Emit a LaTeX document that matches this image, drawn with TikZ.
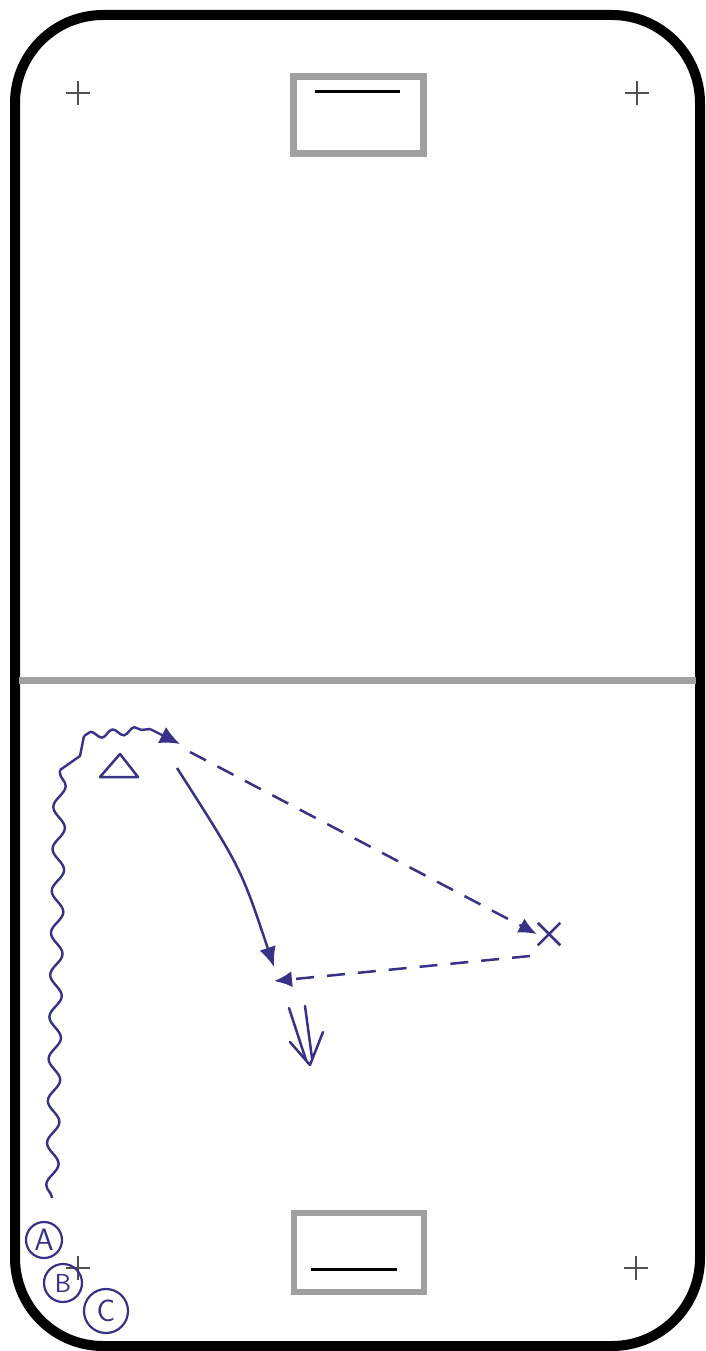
\documentclass[tikz,border=0pt]{standalone}
\usetikzlibrary{arrows.meta,decorations.pathmorphing,shapes.misc}
\definecolor{ink}{RGB}{55,50,135}
\definecolor{rinkgray}{RGB}{160,160,160}
\definecolor{dotgray}{RGB}{80,80,80}
\begin{document}
\begin{tikzpicture}[x=1pt,y=-1pt,
  board/.style={line width=10pt, rounded corners=88pt},
  goalbox/.style={draw=rinkgray, line width=6.5pt},
  goalline/.style={line width=3pt},
  faceoff/.style={dotgray, line width=2pt},
  inkline/.style={ink, line width=2.5pt},
  passline/.style={ink, line width=2.5pt, dash pattern=on 18pt off 13pt, -{Latex[length=18pt,width=16pt]}},
  skateline/.style={ink, line width=2.5pt, -{Latex[length=20pt,width=17pt]}},
  wavy/.style={ink, line width=2.4pt, decorate, decoration={snake, amplitude=6pt, segment length=42pt}},
  smallwavy/.style={ink, line width=2.4pt, decorate, decoration={snake, amplitude=3.5pt, segment length=22pt}},
  letter/.style={circle, draw=ink, line width=2.2pt, text=ink, inner sep=0pt, font=\sffamily\fontsize{31}{31}\selectfont}
]
\useasboundingbox (0,0) rectangle (706,1351);
\fill[white] (0,0) rectangle (706,1351);

% rink
\draw[board] (15,15) rectangle (700,1346);
\draw[rinkgray, line width=7pt] (19,680.5) -- (696,680.5);

% goals
\draw[goalbox] (293.5,76.5) rectangle (423.5,153.5);
\draw[goalline] (315,92) -- (400,92);
\draw[goalbox] (294,1213) rectangle (424,1292);
\draw[goalline] (311,1269) -- (397,1269);

% faceoff crosses
\foreach \cx/\cy in {78/93, 637/93, 78/1268, 636/1268}
  \draw[faceoff] (\cx-12,\cy) -- (\cx+12,\cy) (\cx,\cy-12) -- (\cx,\cy+12);

% players
\node[letter, minimum size=36pt] (A) at (44,1240) {A};
\node[letter, minimum size=38pt, font=\sffamily\fontsize{26}{26}\selectfont] (B) at (63,1283) {B};
\node[letter, minimum size=44pt] (C) at (106,1311) {C};
\node[cross out, draw=ink, line width=2.5pt, minimum size=20pt, inner sep=0pt] (X) at (549,934) {};
\coordinate (tri) at (119,769);
\draw[inkline, line join=round] (100,777) -- (138,777) -- (120,754) -- cycle;

% skating path with puck
\coordinate (w0) at (52,1198);
\coordinate (w1) at (60,770);
\coordinate (w2) at (80,756);
\coordinate (w3) at (84,736);
\coordinate (w4) at (150,729);
\coordinate (w5) at (180,744);
\draw[wavy] (w0) -- (w1);
\draw[ink, line width=2.4pt, line join=round] (w1) -- (w2) -- (w3);
\draw[smallwavy] (w3) -- (w4);
\draw[ink, line width=2.4pt, -{Latex[length=20pt,width=18pt]}] (w4) -- (w5);

% pass to X
\coordinate (p0) at (190,752);
\draw[passline] (p0) -- ([xshift=-1pt]X.west);

% skate to the middle
\coordinate (c0) at (177,768);
\coordinate (c1) at (274,967);
\draw[skateline] (c0) .. controls (241,868) .. (c1);

% return pass
\coordinate (r0) at (530,956);
\coordinate (r1) at (274,981);
\draw[passline] (r0) -- (r1);

% skate with puck (double line)
\coordinate (s1) at (289,1008);
\coordinate (s2) at (305,1006);
\coordinate (t) at (310,1065);
\draw[inkline, line cap=round] (s1) -- (306,1060) (s2) -- (312,1058);
\draw[inkline, line cap=round, line join=round] (290,1042) -- (t) -- (323,1032);
\end{tikzpicture}
\end{document}
